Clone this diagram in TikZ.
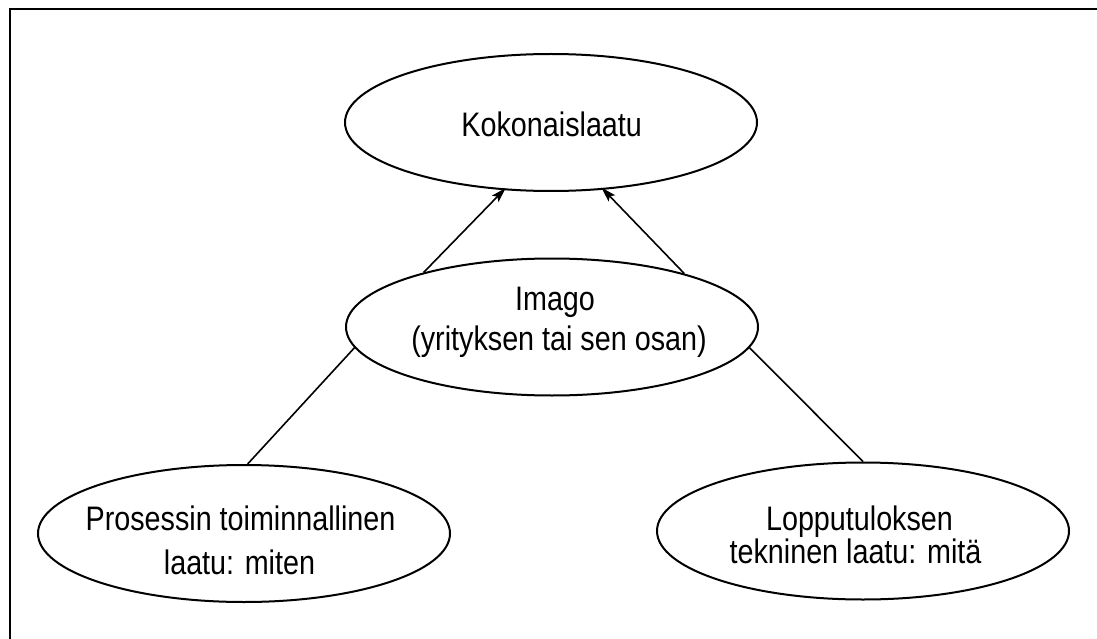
\documentclass[tikz,border=0pt]{standalone}
\usepackage{fontspec}
\setmainfont{Liberation Sans}[FakeStretch=0.845]
\usetikzlibrary{shapes.geometric,arrows.meta}
\begin{document}
\begin{tikzpicture}[x=1pt,y=-1pt,
  ell/.style={draw, ellipse, line width=2pt, minimum width=412pt, minimum height=137pt, inner sep=0pt},
  txt/.style={anchor=base, inner sep=0pt, font=\fontsize{34}{40}\selectfont},
  link/.style={line width=1.6pt},
  arr/.style={link, -{Stealth[length=15pt,width=9pt,inset=3pt]}, shorten >=-3pt}]
\useasboundingbox (0,0) rectangle (1097,639);
\draw[line width=2.5pt] (1097,9) -- (10,9) -- (10,639);
% ellipses
\node[ell] (top) at (551,122.5) {};
\node[ell] (mid) at (552,327) {};
\node[ell] (bl) at (244,533.5) {};
\node[ell] (br) at (863,531) {};
% texts
\node[txt] (topT) at (551.7,137) {Kokonaislaatu};
\node[txt] (midT1) at (555,310) {Imago};
\node[txt] (midT2) at (559,350) {(yrityksen tai sen osan)};
\node[txt] (blT1) at (240.5,530) {Prosessin toiminnallinen};
\node[txt] (blT2) at (239.5,574) {laatu: miten};
\node[txt] (brT1) at (859.5,530) {Lopputuloksen};
\node[txt] (brT2) at (855.5,563) {tekninen laatu: mitä};
% connectors
\draw[arr] (mid.157) -- (top.235);
\draw[arr] (mid.22.6) -- (top.308.5);
\draw[link] (bl.87.5) -- (mid.186.5);
\draw[link] (br.90) -- (mid.354.9);
\end{tikzpicture}
\end{document}
